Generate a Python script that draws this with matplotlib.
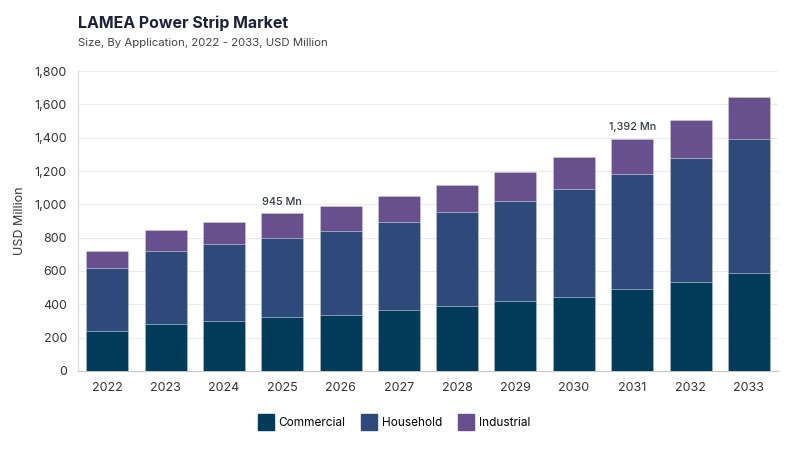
import matplotlib.pyplot as plt
from matplotlib.lines import Line2D
import numpy as np

# === Données du graphique ===
years = ["2022", "2023", "2024", "2025", "2026", "2027",
         "2028", "2029", "2030", "2031", "2032", "2033"]
commercial = [242, 284, 302, 322, 338, 364, 390, 418, 446, 490, 532, 586]
household = [378, 438, 462, 478, 504, 530, 564, 602, 646, 690, 748, 808]
industrial = [102, 122, 132, 145, 148, 156, 162, 176, 190, 212, 226, 248]
annotations = {3: "945 Mn", 9: "1,392 Mn"}

# === Couleurs ===
c_com = "#013b5a"
c_hou = "#2e4a7a"
c_ind = "#68508f"

plt.rcParams['font.family'] = ['Inter', 'DejaVu Sans']

fig = plt.figure(figsize=(8, 4.5), dpi=100)
ax = fig.add_axes([0.0975, 0.1756, 0.875, 0.6666])

x = np.arange(len(years))
w = 0.72
com = np.array(commercial)
hou = np.array(household)
ind = np.array(industrial)

ax.bar(x, com, w, color=c_com, edgecolor="#ffffff40", linewidth=0.6, zorder=3)
ax.bar(x, hou, w, bottom=com, color=c_hou, edgecolor="#ffffff40", linewidth=0.6, zorder=3)
ax.bar(x, ind, w, bottom=com + hou, color=c_ind, edgecolor="#ffffff40", linewidth=0.6, zorder=3)

# === Annotations au-dessus des barres ===
totals = com + hou + ind
for i, txt in annotations.items():
    ax.text(x[i], totals[i] + 40, txt, ha="center", va="bottom",
            fontsize=7.8, fontweight="medium", color="#333a45")

# === Axes ===
ax.set_xlim(-0.5, len(years) - 0.5)
ax.set_ylim(0, 1800)
ax.set_yticks(range(0, 1801, 200))
ax.set_yticklabels([f"{v:,}" for v in range(0, 1801, 200)], fontsize=9, color="#333333")
ax.set_xticks(x)
ax.set_xticklabels(years, fontsize=9, color="#333333")
ax.tick_params(axis="both", length=0, pad=8)
ax.grid(axis="y", color="#ececec", linewidth=0.8, zorder=0)
for s in ["top", "right"]:
    ax.spines[s].set_visible(False)
ax.spines["left"].set_color("#d9d9d9")
ax.spines["bottom"].set_color("#c8c8c8")
ax.set_ylabel("USD Million", fontsize=9, color="#333333", labelpad=6)

# === Titre ===
fig.text(0.0975, 0.937, "LAMEA Power Strip Market", fontsize=11.5,
         fontweight="bold", color="#1e2139")
fig.text(0.0975, 0.897, "Size, By Application, 2022 - 2033, USD Million",
         fontsize=8.2, color="#444444")

# === Légende ===
handles = [
    Line2D([], [], marker="s", linestyle="", markersize=11, color=c_com),
    Line2D([], [], marker="s", linestyle="", markersize=11, color=c_hou),
    Line2D([], [], marker="s", linestyle="", markersize=11, color=c_ind),
]
fig.legend(handles, ["Commercial", "Household", "Industrial"], loc="center",
           bbox_to_anchor=(0.49, 0.06), ncol=3, frameon=False, fontsize=8.5,
           handletextpad=0.1, columnspacing=1.0)

fig.savefig("out.png", dpi=100)
